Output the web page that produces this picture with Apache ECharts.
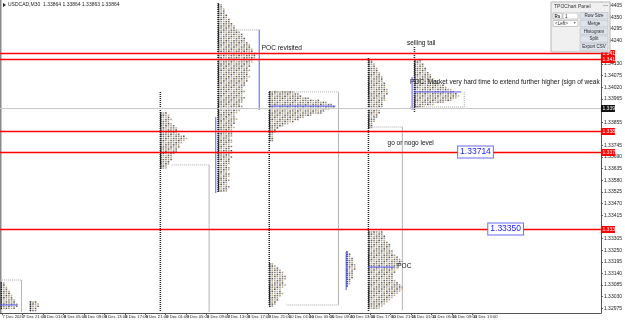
<!DOCTYPE html>
<html>
<head>
<meta charset="utf-8">
<title>USDCAD M30 TPO</title>
<script src="https://cdn.jsdelivr.net/npm/echarts@6/dist/echarts.min.js"></script>
<style>
  html, body { margin: 0; padding: 0; background: #fff; }
  #chart { width: 625px; height: 322px; }
</style>
</head>
<body>
<div id="chart"></div>
<script>
// x axis is hours counted from 7 Dec 17:00, y axis is price
const dateTicks = [0, 4, 8, 12, 16, 20, 24, 28, 32, 36, 40, 44, 48, 52, 56, 60, 64, 68, 72, 76, 80, 84, 88, 92];
const dateLabels = ['7 Dec 2020', '7 Dec 21:00', '8 Dec 01:00', '8 Dec 05:00', '8 Dec 09:00', '8 Dec 13:00',
  '8 Dec 17:00', '8 Dec 21:00', '9 Dec 01:00', '9 Dec 05:00', '9 Dec 09:00', '9 Dec 13:00', '9 Dec 17:00',
  '9 Dec 21:00', '10 Dec 01:00', '10 Dec 05:00', '10 Dec 09:00', '10 Dec 13:00', '10 Dec 17:00',
  '10 Dec 21:00', '11 Dec 01:00', '11 Dec 05:00', '11 Dec 09:00', '11 Dec 13:00'];
const priceTicks = [1.34405, 1.34350, 1.34295, 1.34240, 1.34130, 1.34075, 1.34020, 1.33965, 1.33855,
  1.33745, 1.33690, 1.33635, 1.33580, 1.33525, 1.33470, 1.33415, 1.33305, 1.33250, 1.33195,
  1.33140, 1.33085, 1.33030, 1.32975];

// horizontal levels
const redLevels = [1.34182, 1.34154, 1.33813, 1.33714, 1.33350];
const bidLevel = 1.33922;

// TPO profiles: one count of 30-min letters per 0.0001 price row
const STEP = 0.0001;
const countsA = [2, 2, 3, 3, 4, 4, 5, 5, 6, 6, 7, 7, 6];
const countsB = [3, 4, 4, 3, 3];
const countsC = [3, 4, 4, 5, 4, 5, 6, 7, 7, 7, 8, 10, 11, 10, 9, 8, 8, 7, 7, 6, 5, 5, 5, 4, 4, 3, 3];
const countsD = [2, 2, 3, 3, 3, 4, 4, 5, 5, 6, 7, 7, 8, 9, 10, 10, 11, 11, 12, 13, 13, 14, 14,
  15, 15, 15, 14, 14, 13, 13, 12, 13, 12, 12, 13, 12, 12, 11, 11, 10, 10, 11, 10, 10, 11, 10, 10, 9, 10, 10, 9,
  8, 7, 7, 8, 7, 7, 6, 7, 6, 6, 6, 6, 5, 6, 6, 5, 6, 5, 6, 6, 5, 6, 5,
  5, 5, 4, 5, 5, 4, 5, 5, 4, 5, 4, 4, 5, 4, 4];
const countsE = [10, 12, 13, 16, 20, 23, 25, 26, 24, 22, 21, 17, 14, 12, 10, 8, 6, 4, 3, 3, 2, 2, 2, 2];
const countsF = [2, 3, 4, 5, 6, 6, 7, 7, 6, 6, 7, 6, 5, 5, 6, 5, 4, 4, 3, 3, 2];
const countsG = [1, 2, 2, 3, 3, 3, 4, 4, 4, 3, 3, 3, 3, 2, 2, 2, 1];
const countsH = [2, 2, 3, 3, 4, 4, 5, 5, 6, 6, 6, 7, 7, 7, 8, 8, 8, 7, 7, 7, 6, 6, 6, 5, 5, 5, 4, 4, 3, 3, 2, 2, 2];
const countsI = [6, 6, 7, 7, 7, 8, 9, 9, 9, 10, 10, 11, 12, 13, 14, 13, 12, 12, 11, 11, 10, 10, 10, 11, 12, 13,
  14, 14, 13, 12, 11, 10, 9, 8, 7, 6, 5];
const countsJ = [3, 3, 4, 4, 5, 5, 6, 7, 7, 8, 9, 10, 12, 13, 15, 16, 17, 18, 17, 15, 12, 8, 4];

const profileStarts = [-0.3, 5.4, 30.9, 42.2, 52.2, 52.2, 67.3, 71.6, 71.6, 80.6];
const profileTops = [1.33095, 1.33005, 1.33898, 1.34410, 1.33998, 1.33185, 1.33241, 1.34149, 1.33336, 1.34149];
const profileCounts = [countsA, countsB, countsC, countsD, countsE, countsF, countsG, countsH, countsI, countsJ];

// single print tails: [hour, top price, bottom price]
const tails = [[30.9, 1.33998, 1.32958], [42.2, 1.34418, 1.33520], [52.2, 1.33998, 1.32991],
  [71.6, 1.34158, 1.32958], [80.6, 1.34210, 1.33903]];

// segments: [hour1, price1, hour2, price2]
const grayRules = [[40.5, 1.33653, 40.5, 1.32958], [65.8, 1.33998, 65.8, 1.32991],
  [78.3, 1.33832, 78.3, 1.32967], [3.8, 1.33109, 3.8, 1.32958]];
const grayDots = [[33.2, 1.33653, 40.5, 1.33653], [46.2, 1.34291, 50.3, 1.34291],
  [52.4, 1.33998, 65.8, 1.33998], [55.6, 1.32991, 65.8, 1.32991], [71.9, 1.33832, 78.3, 1.33832],
  [79.8, 1.33927, 90.4, 1.33927], [90.4, 1.33998, 90.4, 1.33927], [-0.38, 1.33109, 3.8, 1.33109]];
const blueRules = [[41.8, 1.33879, 41.8, 1.33520], [50.3, 1.34291, 50.3, 1.33913],
  [80.2, 1.34069, 80.2, 1.33913], [67.3, 1.33241, 67.3, 1.33062], [52.4, 1.33931, 65.2, 1.33931],
  [80.6, 1.33998, 89.8, 1.33998], [71.6, 1.33170, 76.7, 1.33170], [-0.38, 1.32991, 3.1, 1.32991]];

// chart text objects: [hour, price, text]
const notes = [[50.8, 1.34206, 'POC revisited'], [79.2, 1.34229, 'selling tail'],
  [79.8, 1.34045, 'POC. Market very hard time to extend further higher (sign of weak'],
  [75.4, 1.33757, 'go or nogo level'], [77.3, 1.33175, 'POC']];
const boxedLevels = [[89.2, 1.33714, '1.33714'], [95.1, 1.33350, '1.33350']];

const FONT = '"Liberation Sans", Arial, sans-serif';
const cellColors = ['#7d7d7d', '#b39b70', '#555555', '#9a9a9a', '#c4ab80', '#686868'];

const profileRows = [];
profileCounts.forEach((counts, k) => {
  counts.forEach((n, i) => {
    profileRows.push([profileStarts[k], +(profileTops[k] - i * STEP).toFixed(5), n, i]);
  });
});

const levelRows = redLevels.map(v => [v, 0]).concat([[bidLevel, 1]]);

function segRenderer(color, width, dash) {
  return function (params, api) {
    const a = api.coord([api.value(0), api.value(1)]);
    const b = api.coord([api.value(2), api.value(3)]);
    return {
      type: 'line',
      shape: { x1: a[0], y1: a[1], x2: b[0], y2: b[1] },
      style: { stroke: color, lineWidth: width, lineDash: dash }
    };
  };
}

const chart = echarts.init(document.getElementById('chart'));

const option = {
  animation: false,
  backgroundColor: '#ffffff',
  grid: { left: 0, right: 13, top: 2, bottom: 9 },
  xAxis: {
    type: 'value',
    min: -0.4,
    max: 117.13,
    splitLine: { show: false },
    axisLine: { onZero: false, lineStyle: { color: '#555', width: 1 } },
    axisTick: { customValues: dateTicks, length: 2, lineStyle: { color: '#555' } },
    axisLabel: { show: false }
  },
  yAxis: {
    type: 'value',
    position: 'right',
    min: 1.32953,
    max: 1.34423,
    scale: true,
    splitLine: { show: false },
    axisLine: { show: true, onZero: false, lineStyle: { color: '#555', width: 1 } },
    axisTick: { show: true, customValues: priceTicks, length: 2, lineStyle: { color: '#555' } },
    axisLabel: {
      customValues: priceTicks,
      formatter: v => v.toFixed(5),
      hideOverlap: false,
      fontSize: 5, color: '#222', fontFamily: FONT, margin: 3
    }
  },
  series: [
    {
      // time labels under the axis, left-aligned at each tick like MT4
      type: 'custom',
      name: 'timeLabels',
      renderItem: function (params, api) {
        const x = api.coord([api.value(0), 1.34])[0];
        const cs = params.coordSys;
        return {
          type: 'text',
          x: x + 0.5, y: cs.y + cs.height + 2,
          style: { text: dateLabels[params.dataIndex], fill: '#222', font: '4.2px ' + FONT, align: 'left', verticalAlign: 'top' }
        };
      },
      encode: { x: 0 },
      data: dateTicks.map(t => [t]),
      z: 1
    },
    {
      type: 'custom',
      name: 'grayRules',
      renderItem: segRenderer('#b4b4b4', 1, null),
      data: grayRules,
      z: 1
    },
    {
      type: 'custom',
      name: 'grayDots',
      renderItem: segRenderer('#a8a8a8', 1, [1, 1]),
      data: grayDots,
      z: 1
    },
    {
      type: 'custom',
      name: 'profiles',
      renderItem: function (params, api) {
        const t0 = api.value(0), price = api.value(1), n = api.value(2), row = api.value(3);
        const p = api.coord([t0, price]);
        const colW = api.size([0.5, 0])[0];
        const rowH = api.size([0, STEP])[1];
        const children = [];
        for (let j = 0; j < n; j++) {
          children.push({
            type: 'rect',
            shape: { x: p[0] + j * colW, y: p[1] - rowH * 0.35, width: colW * 0.62, height: rowH * 0.7 },
            style: { fill: j === 0 ? '#1e1e1e' : cellColors[(j + row) % cellColors.length] }
          });
        }
        return { type: 'group', children: children };
      },
      encode: { x: 0, y: 1 },
      data: profileRows,
      z: 2
    },
    {
      type: 'custom',
      name: 'tails',
      renderItem: segRenderer('#1e1e1e', 1.5, [1, 1]),
      data: tails.map(d => [d[0] + 0.06, d[1], d[0] + 0.06, d[2]]),
      z: 3
    },
    {
      type: 'custom',
      name: 'blueRules',
      renderItem: segRenderer('#5a5aff', 1, null),
      data: blueRules,
      z: 4
    },
    {
      // full-width horizontal levels with their price tag on the axis
      type: 'custom',
      name: 'hLevels',
      renderItem: function (params, api) {
        const price = api.value(0);
        const isBid = api.value(1) === 1;
        const y = Math.round(api.coord([0, price])[1]) + 0.5;
        const cs = params.coordSys;
        const right = cs.x + cs.width;
        return {
          type: 'group',
          children: [
            {
              type: 'line',
              shape: { x1: cs.x, y1: y, x2: right, y2: y },
              style: { stroke: isBid ? '#c8c8c8' : '#ff0000', lineWidth: isBid ? 1 : 1.5 }
            },
            {
              type: 'rect',
              shape: { x: right, y: y - 3.5, width: 14, height: 7 },
              style: { fill: isBid ? '#111' : '#ff0000' }
            },
            {
              type: 'text',
              x: right + 1.5, y: y,
              style: { text: price.toFixed(5), fill: '#fff', font: '5px ' + FONT, verticalAlign: 'middle', align: 'left' }
            }
          ]
        };
      },
      encode: { y: 0 },
      data: levelRows,
      z: 5
    },
    {
      type: 'custom',
      name: 'levels',
      renderItem: function (params, api) {
        const d = boxedLevels[params.dataIndex];
        const p = api.coord([d[0], d[1]]);
        return {
          type: 'text',
          x: p[0], y: p[1],
          style: {
            text: d[2], fill: '#2020ff', font: '8.5px ' + FONT,
            verticalAlign: 'middle', align: 'left',
            backgroundColor: '#ffffff', borderColor: '#6b6bff', borderWidth: 1, padding: [1, 2]
          }
        };
      },
      encode: { x: 0, y: 1 },
      data: boxedLevels.map(d => [d[0], d[1]]),
      z: 6
    },
    {
      type: 'custom',
      name: 'notes',
      renderItem: function (params, api) {
        const d = notes[params.dataIndex];
        const p = api.coord([d[0], d[1]]);
        return {
          type: 'text',
          x: p[0], y: p[1],
          style: { text: d[2], fill: '#111', font: '6.5px ' + FONT, verticalAlign: 'middle', align: 'left' }
        };
      },
      encode: { x: 0, y: 1 },
      data: notes.map(d => [d[0], d[1]]),
      z: 7
    }
  ],
  graphic: [
    { type: 'rect', shape: { x: 0, y: 0, width: 1.5, height: 313 }, style: { fill: '#8a8a8a' } },
    { type: 'polygon', shape: { points: [[3, 3], [6, 5], [3, 7]] }, style: { fill: '#222' } },
    { type: 'text', x: 8, y: 2.5, style: { text: 'USDCAD,M30  1.33864 1.33864 1.33863 1.33864', font: '5px ' + FONT, fill: '#222' } },
    // TPO panel
    { type: 'rect', shape: { x: 551, y: 2, width: 59, height: 50 }, style: { fill: '#f0f0f0', stroke: '#b8b8b8', lineWidth: 1 }, z: 100 },
    { type: 'text', x: 554, y: 4, style: { text: 'TPOChart Panel', font: '5px ' + FONT, fill: '#333' }, z: 101 },
    { type: 'text', x: 603, y: 3, style: { text: '—', font: '5px ' + FONT, fill: '#555' }, z: 101 },
    { type: 'rect', shape: { x: 553, y: 13, width: 9, height: 6 }, style: { fill: '#fff', stroke: '#999', lineWidth: 0.6 }, z: 101 },
    { type: 'text', x: 554.5, y: 14, style: { text: 'Rs', font: 'bold 4.5px ' + FONT, fill: '#222' }, z: 102 },
    { type: 'rect', shape: { x: 563, y: 13, width: 15, height: 6 }, style: { fill: '#fff', stroke: '#aaa', lineWidth: 0.6 }, z: 101 },
    { type: 'text', x: 565, y: 14, style: { text: '1', font: '4.5px ' + FONT, fill: '#222' }, z: 102 },
    { type: 'rect', shape: { x: 553, y: 20.5, width: 25, height: 6 }, style: { fill: '#fff', stroke: '#aaa', lineWidth: 0.6 }, z: 101 },
    { type: 'text', x: 555, y: 21.5, style: { text: '<Left>', font: '4.5px ' + FONT, fill: '#222' }, z: 102 },
    { type: 'text', x: 573, y: 21.5, style: { text: '▼', font: '3.5px ' + FONT, fill: '#666' }, z: 102 },
    { type: 'rect', shape: { x: 580, y: 12.5, width: 28, height: 6.5 }, style: { fill: '#dfe4ec', stroke: '#b3bac6', lineWidth: 0.6 }, z: 101 },
    { type: 'text', x: 594, y: 15.8, style: { text: 'Row Size', font: '4.5px ' + FONT, fill: '#222', align: 'center', verticalAlign: 'middle' }, z: 102 },
    { type: 'rect', shape: { x: 580, y: 20.3, width: 28, height: 6.5 }, style: { fill: '#dfe4ec', stroke: '#b3bac6', lineWidth: 0.6 }, z: 101 },
    { type: 'text', x: 594, y: 23.6, style: { text: 'Merge', font: '4.5px ' + FONT, fill: '#222', align: 'center', verticalAlign: 'middle' }, z: 102 },
    { type: 'rect', shape: { x: 580, y: 28.1, width: 28, height: 6.5 }, style: { fill: '#dfe4ec', stroke: '#b3bac6', lineWidth: 0.6 }, z: 101 },
    { type: 'text', x: 594, y: 31.4, style: { text: 'Histogram', font: '4.5px ' + FONT, fill: '#222', align: 'center', verticalAlign: 'middle' }, z: 102 },
    { type: 'rect', shape: { x: 580, y: 35.9, width: 28, height: 6.5 }, style: { fill: '#dfe4ec', stroke: '#b3bac6', lineWidth: 0.6 }, z: 101 },
    { type: 'text', x: 594, y: 39.2, style: { text: 'Split', font: '4.5px ' + FONT, fill: '#222', align: 'center', verticalAlign: 'middle' }, z: 102 },
    { type: 'rect', shape: { x: 580, y: 43.7, width: 28, height: 6.5 }, style: { fill: '#dfe4ec', stroke: '#b3bac6', lineWidth: 0.6 }, z: 101 },
    { type: 'text', x: 594, y: 47, style: { text: 'Export CSV', font: '4.5px ' + FONT, fill: '#222', align: 'center', verticalAlign: 'middle' }, z: 102 }
  ]
};

chart.setOption(option);
</script>
</body>
</html>
